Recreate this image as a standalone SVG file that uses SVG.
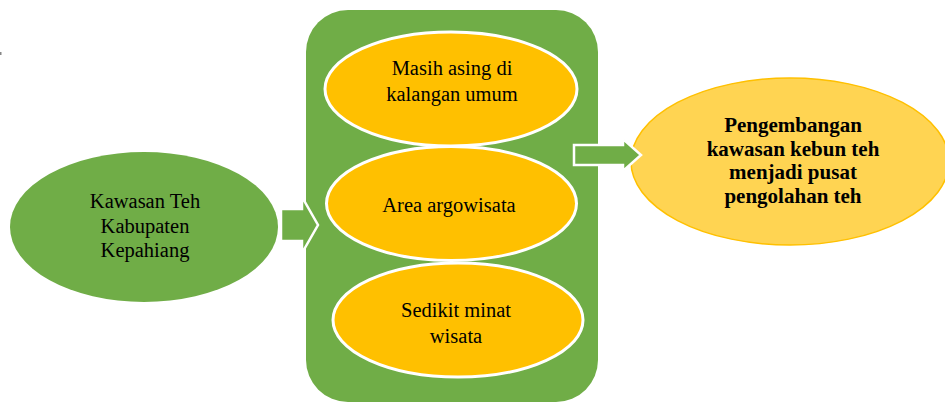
<svg xmlns="http://www.w3.org/2000/svg" width="945" height="403" viewBox="0 0 945 403">
<style>
text{font-family:"Liberation Serif","DejaVu Serif",serif;font-size:20.5px;fill:#000;text-anchor:middle}
.b{font-weight:bold;font-size:21px}
.green{fill:#70AD47}
.gold{fill:#FFC000;stroke:#fff;stroke-width:3}
.arr{fill:#70AD47;stroke:#fff;stroke-width:2.5;stroke-linejoin:miter}
</style>
<rect width="945" height="403" fill="#fff"/>
<rect x="0" y="52" width="1.5" height="3" fill="#888"/>
<g id="container">
<rect x="306" y="10" width="292" height="392" rx="42" ry="42" class="green"/>
</g>
<g id="node-kawasan">
<ellipse cx="144" cy="227" rx="134" ry="75" class="green"/>
<text x="145" y="208">Kawasan Teh</text>
<text x="145" y="233">Kabupaten</text>
<text x="145" y="257">Kepahiang</text>
</g>
<g id="node-masih">
<ellipse cx="451" cy="89" rx="126" ry="57" class="gold"/>
<text x="452" y="75">Masih asing di</text>
<text x="452" y="101">kalangan umum</text>
</g>
<g id="node-area">
<ellipse cx="451.5" cy="203.5" rx="125" ry="57" class="gold"/>
<text x="449" y="212">Area argowisata</text>
</g>
<g id="node-sedikit">
<ellipse cx="458" cy="320" rx="125" ry="57" class="gold"/>
<text x="456" y="317">Sedikit minat</text>
<text x="456" y="343">wisata</text>
</g>
<g id="node-pengembangan">
<ellipse cx="790" cy="161.5" rx="159" ry="83.5" fill="#FFD452" stroke="#FFC000" stroke-width="1.5"/>
<text class="b" x="793" y="132">Pengembangan</text>
<text class="b" x="793" y="155.5">kawasan kebun teh</text>
<text class="b" x="793" y="179">menjadi pusat</text>
<text class="b" x="793" y="202.5">pengolahan teh</text>
</g>
<g id="connectors">
<polygon class="arr" points="281,209 302,209 302,197 318,225 302,253 302,241 281,241"/>
<polygon class="arr" points="574,145 623,145 623,139 641,155 623,171 623,165 574,165"/>
</g>
</svg>
